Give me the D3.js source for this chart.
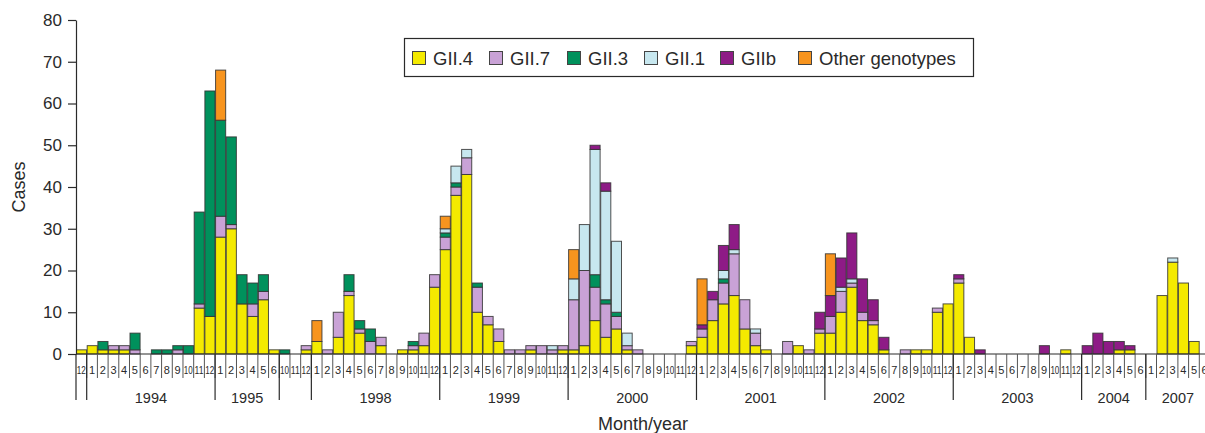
<!DOCTYPE html>
<html><head><meta charset="utf-8">
<script src="https://cdn.jsdelivr.net/npm/d3@7"></script>
<style>
body{margin:0;background:#fff}
svg{display:block;font-family:"Liberation Sans",Arial,Helvetica,sans-serif}
</style>
</head><body>
<svg id="c" width="1205" height="433"></svg>
<script>
// Year groups (label) and the months shown in each group
const yearLabels = ["", "1994", "1995", "", "1998", "1999", "2000", "2001", "2002", "2003", "2004", "2007"];
const groupMonths = [
  [12],
  [1,2,3,4,5,6,7,8,9,10,11,12],
  [1,2,3,4,5,6],
  [10,11,12],
  [1,2,3,4,5,6,7,8,9,10,11,12],
  [1,2,3,4,5,6,7,8,9,10,11,12],
  [1,2,3,4,5,6,7,8,9,10,11,12],
  [1,2,3,4,5,6,7,8,9,10,11,12],
  [1,2,3,4,5,6,7,8,9,10,11,12],
  [1,2,3,4,5,6,7,8,9,10,11,12],
  [1,2,3,4,5,6],
  [1,2,3,4,5,6]
];
const seriesNames = ["GII.4", "GII.7", "GII.3", "GII.1", "GIIb", "Other genotypes"];
const seriesColors = ["#f4ea00", "#c9a2d6", "#00915c", "#c7e7ef", "#8e1b86", "#f7941e"];
const yTicks = [0,10,20,30,40,50,60,70,80];

// Values per month, in the order of groupMonths
const gii4 = [
  1,
  2,1,1,1,0,0,0,0,0,0,11,9,
  28,30,12,9,13,1,
  0,0,1,
  3,0,4,14,5,0,2,0,1,1,2,16,
  25,38,43,10,7,3,0,0,1,0,0,1,
  1,2,8,4,6,1,0,0,0,0,0,2,
  4,8,12,14,6,2,1,0,0,2,0,5,
  5,10,16,8,7,1,0,0,1,1,10,12,
  17,4,0,0,0,0,0,0,0,0,1,0,
  0,0,0,1,1,0,
  0,14,22,17,3,0
];
const gii7 = [
  0,
  0,0,1,1,1,0,0,0,1,0,1,0,
  5,1,0,3,2,0,
  0,0,1,
  0,1,6,1,1,3,2,0,0,1,3,3,
  3,2,4,6,2,3,1,1,1,2,1,1,
  12,18,8,8,3,1,1,0,0,0,0,1,
  2,5,5,10,7,3,0,0,3,0,1,1,
  4,5,1,2,1,0,0,1,0,0,1,0,
  1,0,0,0,0,0,0,0,0,0,0,0,
  0,0,0,0,0,0,
  0,0,0,0,0,0
];
const gii3 = [
  0,
  0,2,0,0,4,0,1,1,1,2,22,54,
  23,21,7,5,4,0,
  1,0,0,
  0,0,0,4,2,3,0,0,0,1,0,0,
  1,1,0,1,0,0,0,0,0,0,0,0,
  0,0,3,1,1,0,0,0,0,0,0,0,
  0,0,1,0,0,0,0,0,0,0,0,0,
  0,0,0,0,0,0,0,0,0,0,0,0,
  0,0,0,0,0,0,0,0,0,0,0,0,
  0,0,0,0,0,0,
  0,0,0,0,0,0
];
const gii1 = [
  0,
  0,0,0,0,0,0,0,0,0,0,0,0,
  0,0,0,0,0,0,
  0,0,0,
  0,0,0,0,0,0,0,0,0,0,0,0,
  1,4,2,0,0,0,0,0,0,0,1,0,
  5,11,30,26,17,3,0,0,0,0,0,0,
  0,0,2,1,0,1,0,0,0,0,0,0,
  0,1,1,0,0,0,0,0,0,0,0,0,
  0,0,0,0,0,0,0,0,0,0,0,0,
  0,0,0,0,0,0,
  0,0,1,0,0,0
];
const giib = [
  0,
  0,0,0,0,0,0,0,0,0,0,0,0,
  0,0,0,0,0,0,
  0,0,0,
  0,0,0,0,0,0,0,0,0,0,0,0,
  0,0,0,0,0,0,0,0,0,0,0,0,
  0,0,1,2,0,0,0,0,0,0,0,0,
  1,2,6,6,0,0,0,0,0,0,0,4,
  5,7,11,8,5,3,0,0,0,0,0,0,
  1,0,1,0,0,0,0,0,2,0,0,0,
  2,5,3,2,1,0,
  0,0,0,0,0,0
];
const other = [
  0,
  0,0,0,0,0,0,0,0,0,0,0,0,
  12,0,0,0,0,0,
  0,0,0,
  5,0,0,0,0,0,0,0,0,0,0,0,
  3,0,0,0,0,0,0,0,0,0,0,0,
  7,0,0,0,0,0,0,0,0,0,0,0,
  11,0,0,0,0,0,0,0,0,0,0,0,
  10,0,0,0,0,0,0,0,0,0,0,0,
  0,0,0,0,0,0,0,0,0,0,0,0,
  0,0,0,0,0,0,
  0,0,0,0,0,0
];

// ---------- build ----------
const cats = [];
groupMonths.forEach((ms, g) => ms.forEach(m => cats.push({g, m})));
const seriesVals = [gii4, gii7, gii3, gii1, giib, other];
const rows = cats.map((c, i) => {
  const r = {i, m: c.m, g: c.g};
  seriesNames.forEach((s, k) => r[s] = seriesVals[k][i]);
  return r;
});

const svg = d3.select("#c");
const ink = "#2a2a2a";
const x = d3.scaleBand().domain(d3.range(cats.length)).range([76, 1210]).padding(0);
const y = d3.scaleLinear().domain([0, 80]).range([354, 20]);
const color = d3.scaleOrdinal(seriesNames, seriesColors);

const stack = d3.stack().keys(seriesNames)(rows);

svg.append("g").selectAll("g").data(stack).join("g")
  .attr("fill", d => color(d.key))
  .selectAll("rect").data(d => d.filter(p => p[1] - p[0] > 0)).join("rect")
  .attr("x", d => x(d.data.i) + 0.5)
  .attr("width", x.bandwidth() - 0.6)
  .attr("y", d => y(d[1]))
  .attr("height", d => y(d[0]) - y(d[1]))
  .attr("stroke", "#333")
  .attr("stroke-opacity", 0.85)
  .attr("stroke-width", 1);

// Y axis
const yAxis = d3.axisLeft(y).tickValues(yTicks).tickSize(8).tickPadding(6).tickSizeOuter(0);
const ya = svg.append("g").attr("transform", "translate(76,0)").call(yAxis);
ya.select(".domain").attr("stroke", ink).attr("stroke-width", 1.2);
ya.selectAll(".tick line").attr("stroke", ink).attr("stroke-width", 1.2);
ya.selectAll(".tick text").attr("fill", ink).attr("font-size", 17).attr("font-family", "Liberation Sans, Arial, sans-serif");

// baseline
svg.append("line").attr("x1", 76).attr("x2", 1210).attr("y1", y(0)).attr("y2", y(0))
  .attr("stroke", ink).attr("stroke-width", 1.2);

// month separators
const step = x.step();
svg.append("g").selectAll("line").data(d3.range(1, cats.length)).join("line")
  .attr("x1", i => x(i)).attr("x2", i => x(i))
  .attr("y1", y(0)).attr("y2", 378)
  .attr("stroke", "#555").attr("stroke-width", 1);

// month labels
svg.append("g").selectAll("text").data(rows).join("text")
  .attr("x", d => x(d.i) + step / 2)
  .attr("y", 374)
  .attr("text-anchor", "middle")
  .attr("font-size", 11)
  .attr("fill", ink)
  .each(function(d) {
    if (d.m >= 10) d3.select(this).attr("textLength", 9).attr("lengthAdjust", "spacingAndGlyphs");
  })
  .text(d => d.m);

// year dividers and labels
const groupStart = [];
let acc = 0;
groupMonths.forEach(ms => { groupStart.push(acc); acc += ms.length; });
svg.append("g").selectAll("line").data(groupStart).join("line")
  .attr("x1", s => x(s)).attr("x2", s => x(s))
  .attr("y1", y(0)).attr("y2", 400)
  .attr("stroke", ink).attr("stroke-width", 1.2);
svg.append("g").selectAll("text").data(yearLabels).join("text")
  .attr("x", (lab, g) => x(groupStart[g]) + groupMonths[g].length * step / 2)
  .attr("y", 403)
  .attr("text-anchor", "middle")
  .attr("font-size", 14.5)
  .attr("fill", ink)
  .text(d => d);

// axis titles
svg.append("text").attr("x", 598 + 45).attr("y", 430).attr("text-anchor", "middle")
  .attr("font-size", 18).attr("fill", ink).text("Month/year");
svg.append("text").attr("transform", "translate(25,187) rotate(-90)").attr("text-anchor", "middle")
  .attr("font-size", 18).attr("fill", ink).text("Cases");

// legend
const legX = [412, 489, 567, 644, 720, 798];
const leg = svg.append("g");
leg.append("rect").attr("x", 404.5).attr("y", 38.5).attr("width", 569).attr("height", 38)
  .attr("fill", "#fff").attr("stroke", ink).attr("stroke-width", 1.2);
const li = leg.selectAll("g.li").data(seriesNames).join("g").attr("class", "li")
  .attr("transform", (d, k) => `translate(${legX[k]},0)`);
li.append("rect").attr("x", 0.5).attr("y", 51.5).attr("width", 13).attr("height", 13)
  .attr("fill", d => color(d)).attr("stroke", "#444").attr("stroke-width", 1);
li.append("text").attr("x", 21).attr("y", 64.5).attr("font-size", 18.5).attr("fill", ink).text(d => d);
</script>
</body></html>
